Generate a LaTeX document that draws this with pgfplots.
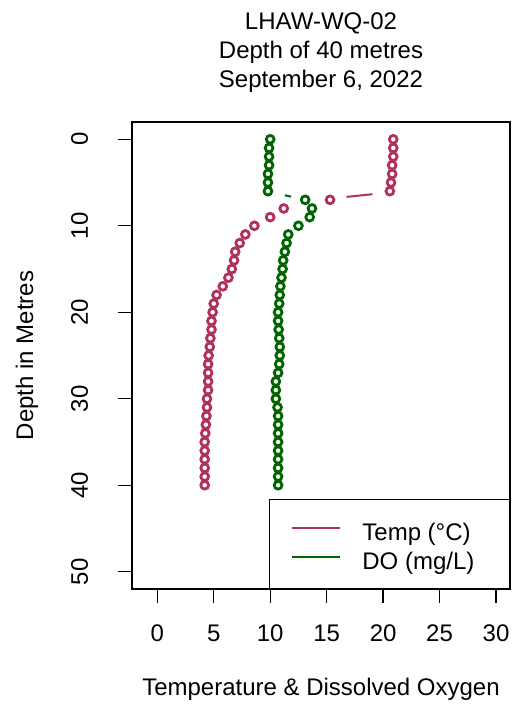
\documentclass[border=0pt]{standalone}
\usepackage{fontspec}
\setmainfont{Liberation Sans}
\usepackage{pgfplots}
\pgfplotsset{compat=1.18}
\definecolor{tempcol}{RGB}{176,48,96}
\definecolor{docol}{RGB}{0,100,0}
\pgfplotstableread{
depth temp do
0 20.9 10.0
1 20.9 9.9
2 20.9 9.9
3 20.8 9.9
4 20.8 9.8
5 20.7 9.8
6 20.6 9.8
7 15.3 13.1
8 11.2 13.7
9 10.0 13.5
10 8.6 12.5
11 7.8 11.6
12 7.3 11.45
13 6.9 11.3
14 6.8 11.15
15 6.6 11.1
16 6.3 11.0
17 5.8 10.9
18 5.25 10.85
19 5.0 10.8
20 4.9 10.7
21 4.8 10.7
22 4.8 10.75
23 4.7 10.8
24 4.65 10.85
25 4.55 10.85
26 4.5 10.8
27 4.5 10.7
28 4.5 10.5
29 4.5 10.5
30 4.4 10.5
31 4.4 10.65
32 4.35 10.7
33 4.3 10.7
34 4.25 10.7
35 4.2 10.7
36 4.2 10.7
37 4.2 10.7
38 4.2 10.7
39 4.2 10.7
40 4.2 10.7
}\profile
\begin{document}
\begin{tikzpicture}[x=1pt,y=1pt]
\path[use as bounding box] (0,0) rectangle (515,709);
\begin{axis}[
  at={(132pt,120pt)}, anchor=south west,
  scale only axis, width=378pt, height=467pt,
  xmin=-2.24, xmax=31.24, ymin=-2, ymax=52, y dir=reverse,
  xtick={0,5,...,30}, ytick={0,10,...,50},
  xtick pos=bottom, ytick pos=left,
  tick align=outside, major tick length=14pt,
  tick style={line width=1.2pt, black},
  axis line style={line width=1.2pt, black},
  /pgf/number format/assume math mode=true,
  ticklabel style={font=\fontsize{24}{28}\selectfont},
  xticklabel style={anchor=base, inner sep=0pt},
  yticklabel style={rotate=90, anchor=base, inner sep=0pt},
  xticklabel shift=38.7pt,
  yticklabel shift=30pt,
  every axis x label/.style={at={(axis description cs:0.5,-0.2291)}, anchor=base, font=\fontsize{24}{28}\selectfont},
  every axis y label/.style={at={(axis description cs:-0.2619,0.5)}, rotate=90, anchor=base, font=\fontsize{24}{28}\selectfont},
  xlabel={Temperature \& Dissolved Oxygen},
  ylabel={Depth in Metres},
  title={LHAW-WQ-02\\Depth of 40 metres\\September 6, 2022},
  every axis title/.style={at={(axis description cs:0.5,1)}, anchor=south, yshift=29.6pt, align=center, inner sep=0pt, font=\fontsize{24}{29}\selectfont},
  legend image code/.code={\draw[#1] (0pt,1.7pt) -- (48pt,1.7pt);},
  legend style={at={(axis description cs:1,0)}, anchor=south east, draw=black, line width=1.2pt, fill=white,
    inner xsep=22pt, inner ysep=19pt, row sep=7pt, column sep=21pt,
    font=\fontsize{24}{28}\selectfont,
    nodes={inner sep=0pt, text height=22pt, text depth=0pt}},
  legend cell align=left,
]
\addplot[only marks, mark=o, color=tempcol, mark size=3.9pt, line width=2.8pt, forget plot] table[x=temp, y=depth] {\profile};
\addplot[only marks, mark=o, color=docol, mark size=3.9pt, line width=2.8pt, forget plot] table[x=do, y=depth] {\profile};
\addplot[tempcol, line width=2pt, forget plot] coordinates {(19.06,6.35) (16.76,6.66)};
\addplot[docol, line width=2pt, forget plot] coordinates {(11.3,6.47) (11.85,6.63)};
\addlegendimage{tempcol, line width=2pt}
\addlegendentry{\makebox[125pt][l]{Temp (°C)}}
\addlegendimage{docol, line width=2pt}
\addlegendentry{\makebox[125pt][l]{DO (mg/L)}}
\end{axis}
\end{tikzpicture}
\end{document}
